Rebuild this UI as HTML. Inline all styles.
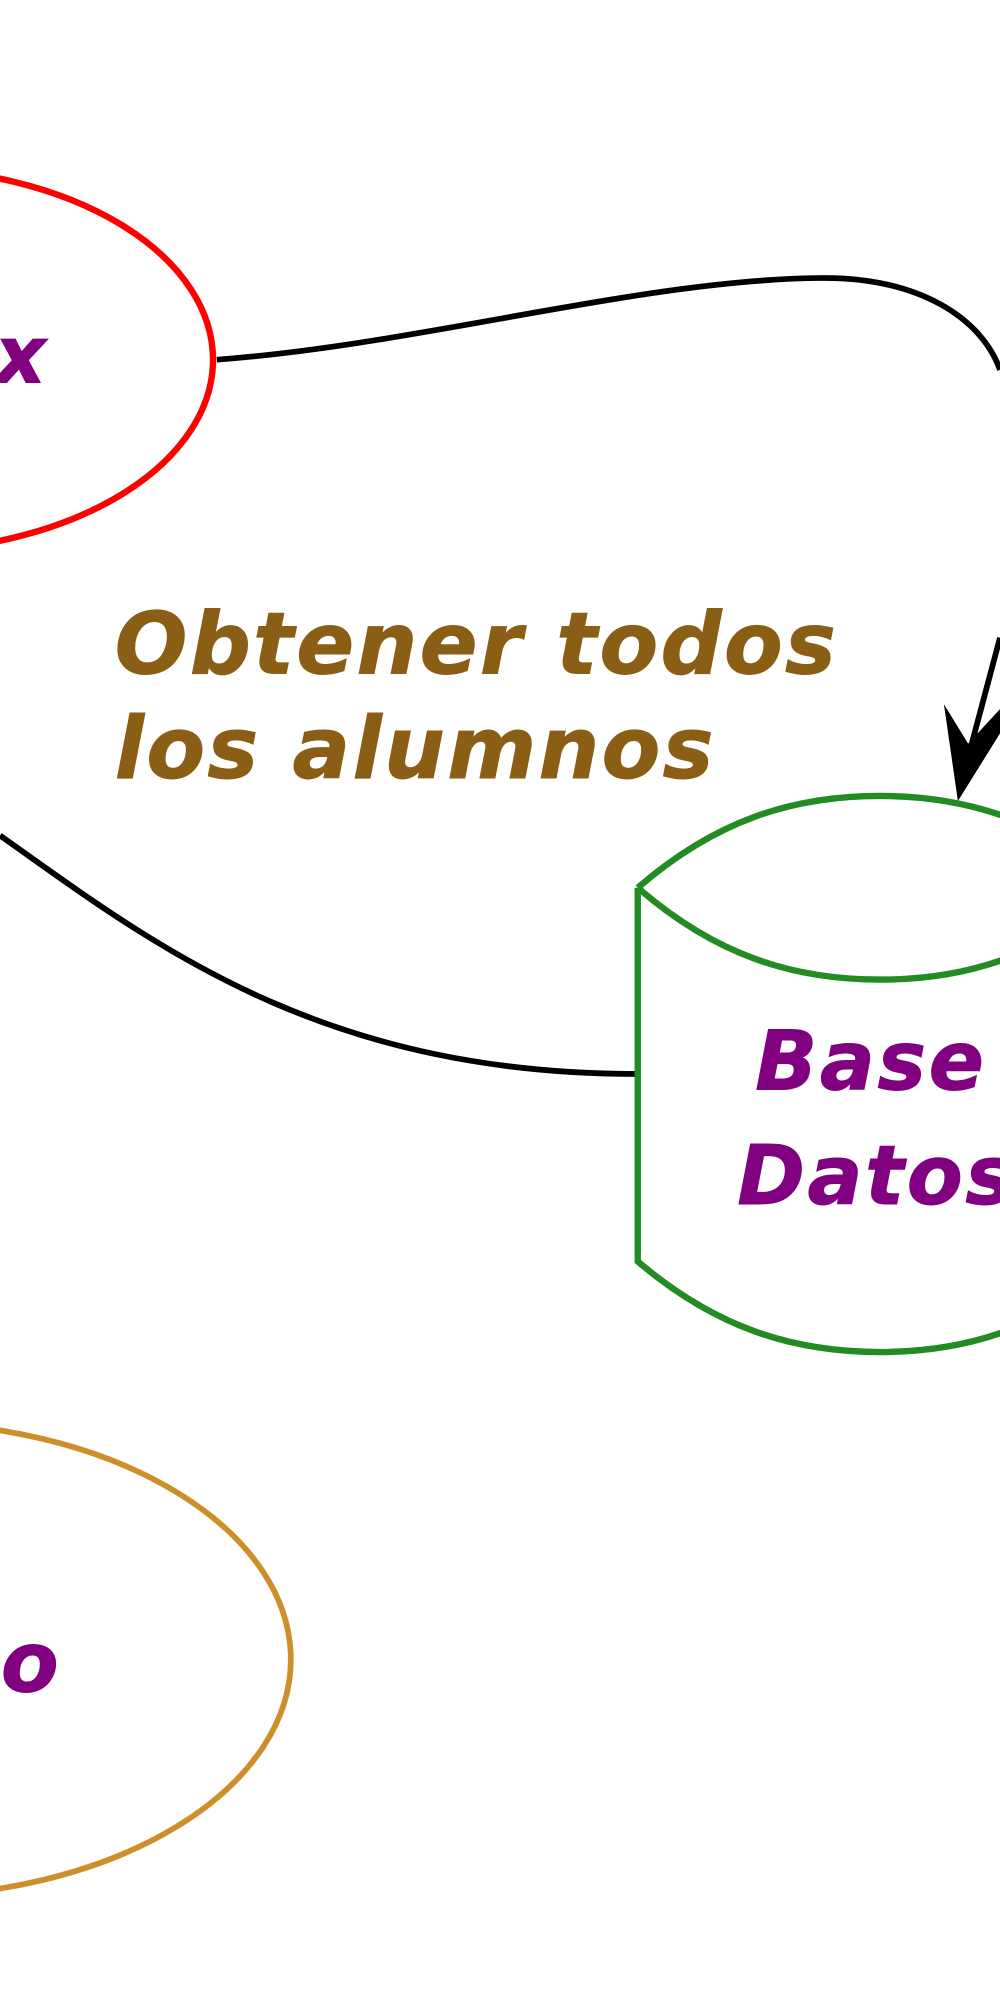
<!DOCTYPE html>
<html><head><meta charset="utf-8"><style>html,body{margin:0;padding:0;background:#fff}svg{display:block}</style></head>
<body>
<svg width="1000" height="2000" viewBox="0 0 784 1568" xmlns="http://www.w3.org/2000/svg">
<rect width="784" height="1568" fill="#fff"/>
<g font-family="DejaVu Sans, sans-serif" font-weight="bold" font-style="italic" stroke-width="0.7">
<ellipse cx="-80" cy="282" rx="247" ry="150" fill="none" stroke="#ff0000" stroke-width="5"/>
<text x="36" y="300" text-anchor="end" font-size="62" fill="#800080" stroke="#800080">x</text>
<path d="M170,282 C330,270 500,220 640,218 C720,216 770,250 784,290" fill="none" stroke="#000" stroke-width="4.5"/>
<path d="M784,500 L760,590" fill="none" stroke="#000" stroke-width="4.5"/>
<path d="M751,628 L740,552 L759,583 L784,556 L784,575 Z" fill="#000"/>
<path d="M0,655 C120,740 250,842 500,842" fill="none" stroke="#000" stroke-width="4.5"/>
<text x="90" y="528" font-size="67" letter-spacing="1.8" fill="#8b5e15" stroke="#8b5e15">Obtener todos</text>
<text x="90" y="610" font-size="67" letter-spacing="1.8" fill="#8b5e15" stroke="#8b5e15">los alumnos</text>
<path d="M500,696 C560,644 620,624 690,624 C760,624 820,644 880,696 M500,696 C560,748 620,768 690,768 C760,768 820,748 880,696 M500,696 L500,989 C560,1040 620,1060 690,1060 C760,1060 820,1040 880,989" fill="none" stroke="#228b22" stroke-width="5"/>
<text x="592" y="854" font-size="64" letter-spacing="2" fill="#800080" stroke="#800080">Base de</text>
<text x="578" y="944" font-size="64" letter-spacing="2" fill="#800080" stroke="#800080">Datos</text>
<ellipse cx="-80" cy="1301" rx="308" ry="186" fill="none" stroke="#cd8f2a" stroke-width="4.5"/>
<text x="46" y="1326" text-anchor="end" font-size="66" fill="#800080" stroke="#800080">o</text>
</g>
</svg>
</body></html>
